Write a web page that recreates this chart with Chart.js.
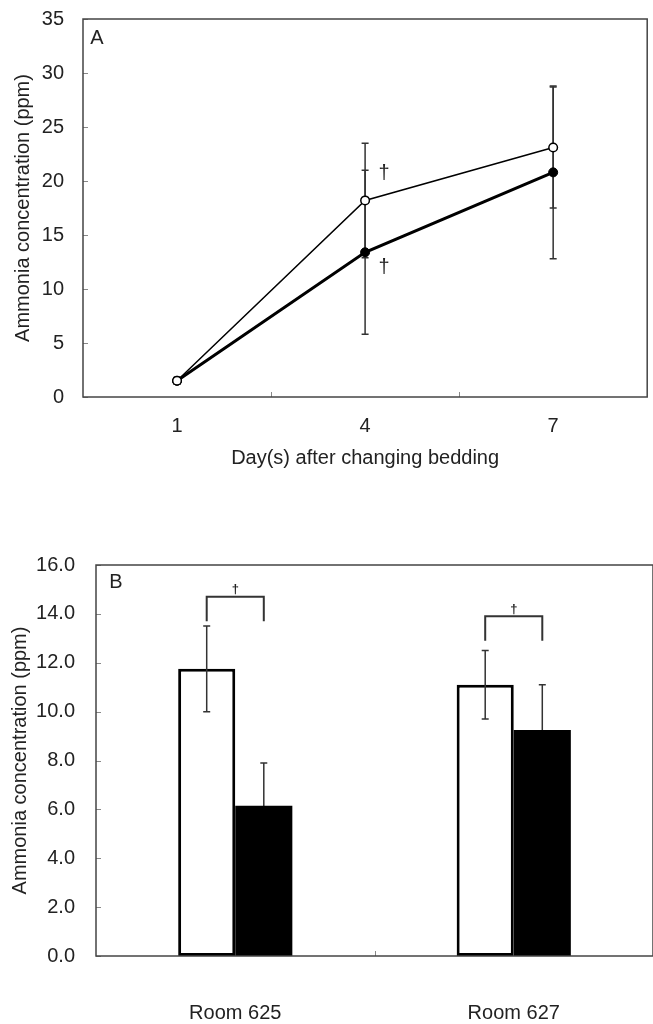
<!DOCTYPE html>
<html>
<head>
<meta charset="utf-8">
<script src="https://cdn.jsdelivr.net/npm/chart.js@4"></script>
<style>
  html, body { margin: 0; padding: 0; background: #fff; }
  #wrapA { position: absolute; left: 0; top: 0; width: 653px; height: 470px; }
  #wrapB { position: absolute; left: 0; top: 470px; width: 653px; height: 554px; }
</style>
</head>
<body>
<div id="wrapA"><canvas id="chartA"></canvas></div>
<div id="wrapB"><canvas id="chartB"></canvas></div>
<script>
// Panel A: ammonia over days after changing bedding
const days = ['1', '4', '7'];
const openMeans = [1.5, 18.2, 23.1];
const openSD = [0.3, 5.3, 5.6];
const filledMeans = [1.5, 13.4, 20.8];
const filledSD = [0.3, 7.6, 8.0];

// Panel B: ammonia per room
const rooms = ['Room 625', 'Room 627'];
const roomOpen = [11.75, 11.1];
const roomOpenSD = [1.75, 1.4];
const roomFilled = [6.15, 9.25];
const roomFilledSD = [1.75, 1.85];
const bracketLow = [13.7, 12.9];
const bracketHigh = [14.7, 13.9];

const textColor = '#222';
const mainFont = { family: "'Liberation Sans', Arial, sans-serif", size: 20 };
Chart.defaults.font.family = mainFont.family;

function drawErrors(chart, opts, first) {
  const ctx = chart.ctx;
  const y = chart.scales.y;
  ctx.save();
  ctx.strokeStyle = '#333';
  ctx.lineWidth = 1.5;
  opts.sd.forEach((sds, d) => {
    if (opts.errorsFirst[d] !== first) return;
    const meta = chart.getDatasetMeta(d);
    const vals = chart.data.datasets[d].data;
    meta.data.forEach((el, i) => {
      const x = el.x;
      const top = y.getPixelForValue(vals[i] + sds[i]);
      const bot = y.getPixelForValue(vals[i] - sds[i]);
      ctx.beginPath();
      ctx.moveTo(x, top); ctx.lineTo(x, bot);
      ctx.moveTo(x - 3.5, top); ctx.lineTo(x + 3.5, top);
      ctx.moveTo(x - 3.5, bot); ctx.lineTo(x + 3.5, bot);
      ctx.stroke();
    });
  });
  ctx.restore();
}

// frame, inward ticks, error bars, panel letter and significance marks
const panelPlugin = {
  id: 'panel',
  beforeDatasetsDraw(chart, args, opts) {
    drawErrors(chart, opts, true);
  },
  afterDatasetsDraw(chart, args, opts) {
    drawErrors(chart, opts, false);
  },
  afterDraw(chart, args, opts) {
    const ctx = chart.ctx;
    const a = chart.chartArea;
    const x = chart.scales.x, y = chart.scales.y;
    ctx.save();
    ctx.strokeStyle = '#888';
    ctx.lineWidth = 1;
    ctx.beginPath();
    y.ticks.forEach(t => {
      const py = Math.round(y.getPixelForValue(t.value)) + 0.5;
      ctx.moveTo(a.left, py); ctx.lineTo(a.left + 5, py);
    });
    for (let i = 1; i < x.ticks.length; i++) {
      const px = Math.round((x.getPixelForTick(i - 1) + x.getPixelForTick(i)) / 2) + 0.5;
      ctx.moveTo(px, a.bottom); ctx.lineTo(px, a.bottom - 5);
    }
    ctx.stroke();

    ctx.strokeStyle = '#444';
    ctx.lineWidth = 1.5;
    ctx.strokeRect(a.left, a.top, a.right - a.left, a.bottom - a.top);

    ctx.fillStyle = textColor;
    ctx.font = '20px ' + mainFont.family;
    ctx.textAlign = 'center';
    ctx.textBaseline = 'middle';
    ctx.fillText(opts.letter, a.left + opts.letterDX, a.top + opts.letterDY);

    if (opts.daggers) {
      const m0 = chart.getDatasetMeta(0).data[1];
      const m1 = chart.getDatasetMeta(1).data[1];
      ctx.fillText('\u2020', m0.x + 19, m0.y - 27);
      ctx.fillText('\u2020', m1.x + 19, m1.y + 15);
    }
    if (opts.brackets) {
      const d0 = chart.getDatasetMeta(0).data;
      const d1 = chart.getDatasetMeta(1).data;
      ctx.strokeStyle = '#333';
      ctx.lineWidth = 2;
      ctx.font = 'bold 13px ' + mainFont.family;
      d0.forEach((el, i) => {
        const xl = el.x, xr = d1[i].x;
        const lo = y.getPixelForValue(bracketLow[i]);
        const hi = y.getPixelForValue(bracketHigh[i]);
        ctx.beginPath();
        ctx.moveTo(xl, lo); ctx.lineTo(xl, hi); ctx.lineTo(xr, hi); ctx.lineTo(xr, lo);
        ctx.stroke();
        ctx.fillText('\u2020', (xl + xr) / 2, hi - 7);
      });
    }
    ctx.restore();
  }
};

new Chart(document.getElementById('chartA'), {
  type: 'line',
  data: {
    labels: days,
    datasets: [
      { data: openMeans, borderColor: '#000', borderWidth: 1.5, tension: 0,
        pointRadius: 4.3, pointBackgroundColor: '#fff', pointBorderColor: '#000', pointBorderWidth: 1.5 },
      { data: filledMeans, borderColor: '#000', borderWidth: 3, tension: 0,
        pointRadius: 4.5, pointBackgroundColor: '#000', pointBorderColor: '#000', pointBorderWidth: 1 }
    ]
  },
  options: {
    responsive: true, maintainAspectRatio: false, animation: false,
    layout: { padding: { top: 19, right: 4, left: 0, bottom: 0 } },
    plugins: {
      legend: { display: false }, tooltip: { enabled: false },
      panel: { sd: [openSD, filledSD], errorsFirst: [true, true], letter: 'A', letterDX: 14, letterDY: 19, daggers: true }
    },
    scales: {
      x: {
        type: 'category', offset: true,
        grid: { display: false, drawTicks: true, tickLength: 17 }, border: { display: false },
        ticks: { color: textColor, font: mainFont, padding: 0 },
        title: { display: true, text: 'Day(s) after changing bedding', color: textColor, font: mainFont, padding: { top: 0, bottom: 0 } },
        afterFit: s => { s.height = 73; }
      },
      y: {
        min: 0, max: 35,
        grid: { display: false, drawTicks: true, tickLength: 19 }, border: { display: false },
        ticks: { stepSize: 5, color: textColor, font: mainFont, padding: 0 },
        title: { display: true, text: 'Ammonia concentration (ppm)', color: textColor, font: mainFont, padding: { top: 11, bottom: 0 } },
        afterFit: s => { s.width = 83; }
      }
    }
  },
  plugins: [panelPlugin]
});

new Chart(document.getElementById('chartB'), {
  type: 'bar',
  data: {
    labels: rooms,
    datasets: [
      { data: roomOpen, backgroundColor: '#fff', borderColor: '#000', borderWidth: 3, borderSkipped: false },
      { data: roomFilled, backgroundColor: '#000', borderColor: '#000', borderWidth: 0 }
    ]
  },
  options: {
    responsive: true, maintainAspectRatio: false, animation: false,
    categoryPercentage: 0.41, barPercentage: 1.0,
    layout: { padding: { top: 95, right: 0, left: 0, bottom: 0 } },
    plugins: {
      legend: { display: false }, tooltip: { enabled: false },
      panel: { sd: [roomOpenSD, roomFilledSD], errorsFirst: [false, true], letter: 'B', letterDX: 20, letterDY: 17, brackets: true }
    },
    scales: {
      x: {
        grid: { display: false, drawTicks: true, tickLength: 45 }, border: { display: false },
        ticks: { color: textColor, font: mainFont, padding: 0 },
        afterFit: s => { s.height = 68; }
      },
      y: {
        min: 0, max: 16,
        grid: { display: false, drawTicks: true, tickLength: 21 }, border: { display: false },
        ticks: { stepSize: 2, color: textColor, font: mainFont, padding: 0, callback: v => v.toFixed(1) },
        title: { display: true, text: 'Ammonia concentration (ppm)', color: textColor, font: mainFont, padding: { top: 8, bottom: 0 } },
        afterFit: s => { s.width = 96; }
      }
    }
  },
  plugins: [panelPlugin]
});
</script>
</body>
</html>
